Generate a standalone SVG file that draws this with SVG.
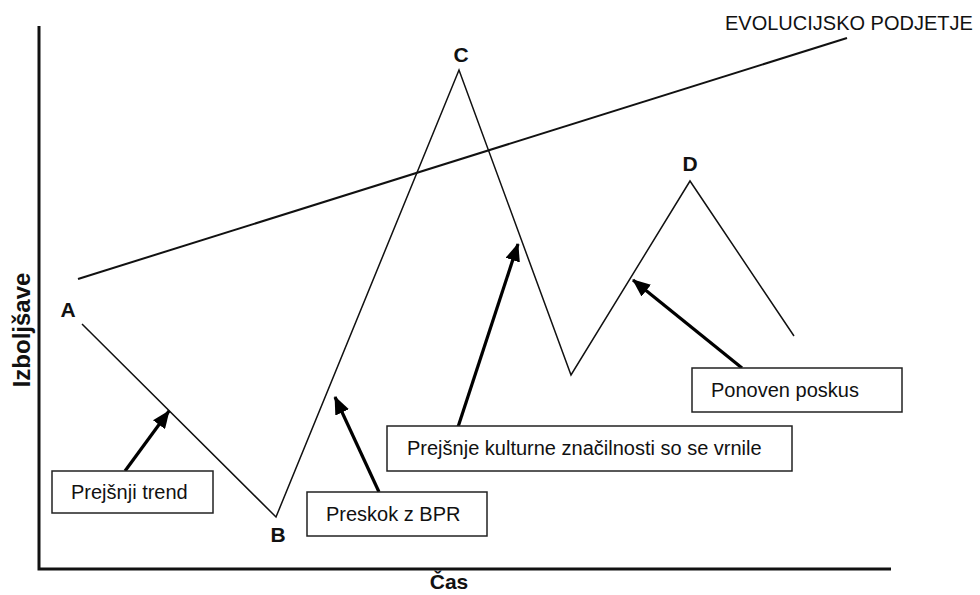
<svg xmlns="http://www.w3.org/2000/svg" width="980" height="595" viewBox="0 0 980 595">
  <style>
    .txt { font-family: "Liberation Sans", Arial, sans-serif; font-size: 20px; fill: #111; }
    .pt { font-family: "Liberation Sans", Arial, sans-serif; font-size: 21px; font-weight: bold; fill: #111; text-anchor: middle; }
    .ax { font-family: "Liberation Sans", Arial, sans-serif; font-weight: bold; fill: #111; text-anchor: middle; }
    .box { fill: #fff; stroke: #222; stroke-width: 1.5; }
    .axis { stroke: #111; stroke-width: 3; fill: none; }
    .curve { stroke: #111; stroke-width: 1.5; fill: none; stroke-linejoin: miter; }
    .trend { stroke: #111; stroke-width: 2; fill: none; }
    .arrow { stroke: #000; stroke-width: 3.2; fill: none; marker-end: url(#head); }
  </style>
  <defs>
    <marker id="head" markerUnits="userSpaceOnUse" markerWidth="18" markerHeight="15" refX="17" refY="7.5" orient="auto">
      <path d="M0,0 L18,7.5 L0,15 z" fill="#000"/>
    </marker>
  </defs>

  <rect width="980" height="595" fill="#fff"/>

  <!-- axes -->
  <g id="axes">
    <polyline class="axis" points="39,26 39,569 891,569"/>
    <text class="ax" font-size="24" transform="translate(30,330) rotate(-90)">Izboljšave</text>
    <text class="ax" font-size="21" x="449" y="589">Čas</text>
  </g>

  <!-- performance curve A-B-C-D -->
  <g id="curve">
    <polyline class="curve" points="82,324 276,517 459,70 571,375 690,181 794,336"/>
  </g>

  <!-- evolutionary trend line -->
  <g id="trend">
    <line class="trend" x1="78" y1="279" x2="847" y2="38"/>
    <text class="txt" x="725" y="30">EVOLUCIJSKO PODJETJE</text>
  </g>

  <!-- point labels -->
  <g id="point-A"><text class="pt" x="68" y="317">A</text></g>
  <g id="point-B"><text class="pt" x="278" y="542">B</text></g>
  <g id="point-C"><text class="pt" x="461" y="62">C</text></g>
  <g id="point-D"><text class="pt" x="690" y="171">D</text></g>

  <!-- pointer arrows from callouts -->
  <g id="connectors">
    <line class="arrow" x1="125" y1="471" x2="169" y2="411"/>
    <line class="arrow" x1="379" y1="492" x2="335" y2="397"/>
    <line class="arrow" x1="458" y1="427" x2="518" y2="244"/>
    <line class="arrow" x1="742" y1="368" x2="633" y2="280"/>
  </g>

  <!-- callout boxes -->
  <g id="box-prejsnji-trend">
    <rect class="box" x="52" y="471" width="161" height="42"/>
    <text class="txt" x="71" y="499">Prejšnji trend</text>
  </g>
  <g id="box-preskok">
    <rect class="box" x="307" y="492" width="180" height="44"/>
    <text class="txt" x="326" y="521">Preskok z BPR</text>
  </g>
  <g id="box-kulturne">
    <rect class="box" x="387" y="426" width="405" height="45"/>
    <text class="txt" x="407" y="455">Prejšnje kulturne značilnosti so se vrnile</text>
  </g>
  <g id="box-ponoven">
    <rect class="box" x="692" y="368" width="210" height="44"/>
    <text class="txt" x="711" y="397">Ponoven poskus</text>
  </g>
</svg>
